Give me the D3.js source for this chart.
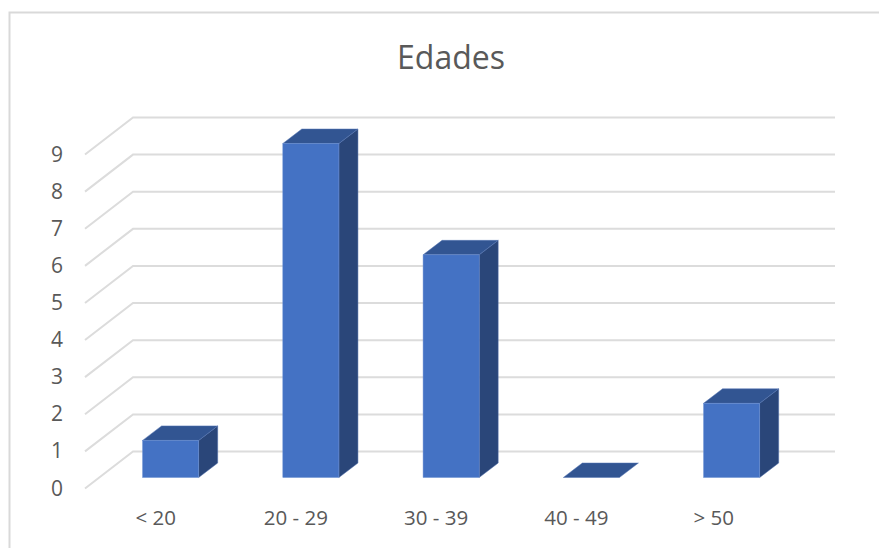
<!DOCTYPE html>
<html>
<head>
<meta charset="utf-8">
<script src="https://cdnjs.cloudflare.com/ajax/libs/d3/7.8.5/d3.min.js"></script>
<style>
  html, body { margin: 0; padding: 0; background: #fff; }
  svg { display: block; }
  text { font-family: "Open Sans", sans-serif; fill: #595959; }
</style>
</head>
<body>
<svg id="chart" width="879" height="548"></svg>
<script>
const chartTitle = "Edades";
const categories = ["< 20", "20 - 29", "30 - 39", "40 - 49", "> 50"];
const counts = [1, 9, 6, 0, 2];
const valueTicks = [0, 1, 2, 3, 4, 5, 6, 7, 8, 9];

const svg = d3.select("#chart");

// Front plane of the 3D box; the back wall is offset by wallDepth.
const wallDepth = { dx: 48, dy: -37 };
const barDepth = { dx: 19, dy: -14.5 };
const front = { left: 85, right: 787, zero: 488.5 };

const y = d3.scaleLinear().domain([0, 9]).range([front.zero, 154.5]);
const x = d3.scaleBand()
  .domain(categories)
  .range([100.5, 801.75])
  .paddingInner(0.6)
  .paddingOuter(0.3);

// Outer frame: left edge and top edge only, running off the page
svg.append("path")
  .attr("d", "M9.5,548V12.5H879")
  .attr("fill", "none")
  .attr("stroke", "#d9d9d9")
  .attr("stroke-width", 2);

svg.append("text")
  .attr("x", 451)
  .attr("y", 69)
  .attr("text-anchor", "middle")
  .style("font-size", "32px")
  .text(chartTitle);

// Gridlines: slanted floor edge plus the run along the back wall
svg.append("g").selectAll("path")
  .data(valueTicks)
  .join("path")
  .attr("d", d => {
    const yf = y(d);
    return d3.line()([
      [front.left, yf],
      [front.left + wallDepth.dx, yf + wallDepth.dy],
      [front.right + wallDepth.dx, yf + wallDepth.dy]
    ]);
  })
  .attr("fill", "none")
  .attr("stroke", "#dcdcdc")
  .attr("stroke-width", 2);

// Value labels
svg.append("g").selectAll("text")
  .data(valueTicks)
  .join("text")
  .attr("x", 57)
  .attr("y", d => y(d) + 7)
  .attr("text-anchor", "middle")
  .style("font-size", "21px")
  .text(d => d);

// Bars sit on the floor, centred within the box depth
const floorY = y(0) + (wallDepth.dy - barDepth.dy) / 2 + 0.25;
const unit = y(0) - y(1);
const bars = svg.append("g").selectAll("g")
  .data(categories.map((c, i) => ({ c, v: counts[i] })))
  .join("g");

const prism = (d) => {
  const x0 = x(d.c), x1 = x0 + x.bandwidth();
  const yb = floorY, yt = floorY - d.v * unit;
  return { x0, x1, yb, yt };
};

bars.filter(d => d.v > 0).append("path")
  .attr("d", d => {
    const p = prism(d);
    return d3.line()([[p.x1, p.yt], [p.x1 + barDepth.dx, p.yt + barDepth.dy],
      [p.x1 + barDepth.dx, p.yb + barDepth.dy], [p.x1, p.yb]]) + "Z";
  })
  .attr("fill", "#2a4679")
  .attr("stroke", "#4a6aa8")
  .attr("stroke-width", 0.5);

bars.append("path")
  .attr("d", d => {
    const p = prism(d);
    return d3.line()([[p.x0, p.yt], [p.x0 + barDepth.dx, p.yt + barDepth.dy],
      [p.x1 + barDepth.dx, p.yt + barDepth.dy], [p.x1, p.yt]]) + "Z";
  })
  .attr("fill", "#325592")
  .attr("stroke", "#5676b4")
  .attr("stroke-width", 0.5);

bars.filter(d => d.v > 0).append("rect")
  .attr("x", d => prism(d).x0)
  .attr("y", d => prism(d).yt)
  .attr("width", x.bandwidth())
  .attr("height", d => prism(d).yb - prism(d).yt)
  .attr("fill", "#4472c4")
  .attr("stroke", "#6b8fd2")
  .attr("stroke-width", 0.5);

// Category labels, shifted left of the bars as the floor recedes;
// the last one sits a little further left
svg.append("g").selectAll("text")
  .data(categories)
  .join("text")
  .attr("x", (d, i) => x(d) + x.bandwidth() / 2 - (i === categories.length - 1 ? 18 : 15))
  .attr("y", 525)
  .attr("text-anchor", "middle")
  .style("font-size", "20.5px")
  .text(d => d);
</script>
</body>
</html>
